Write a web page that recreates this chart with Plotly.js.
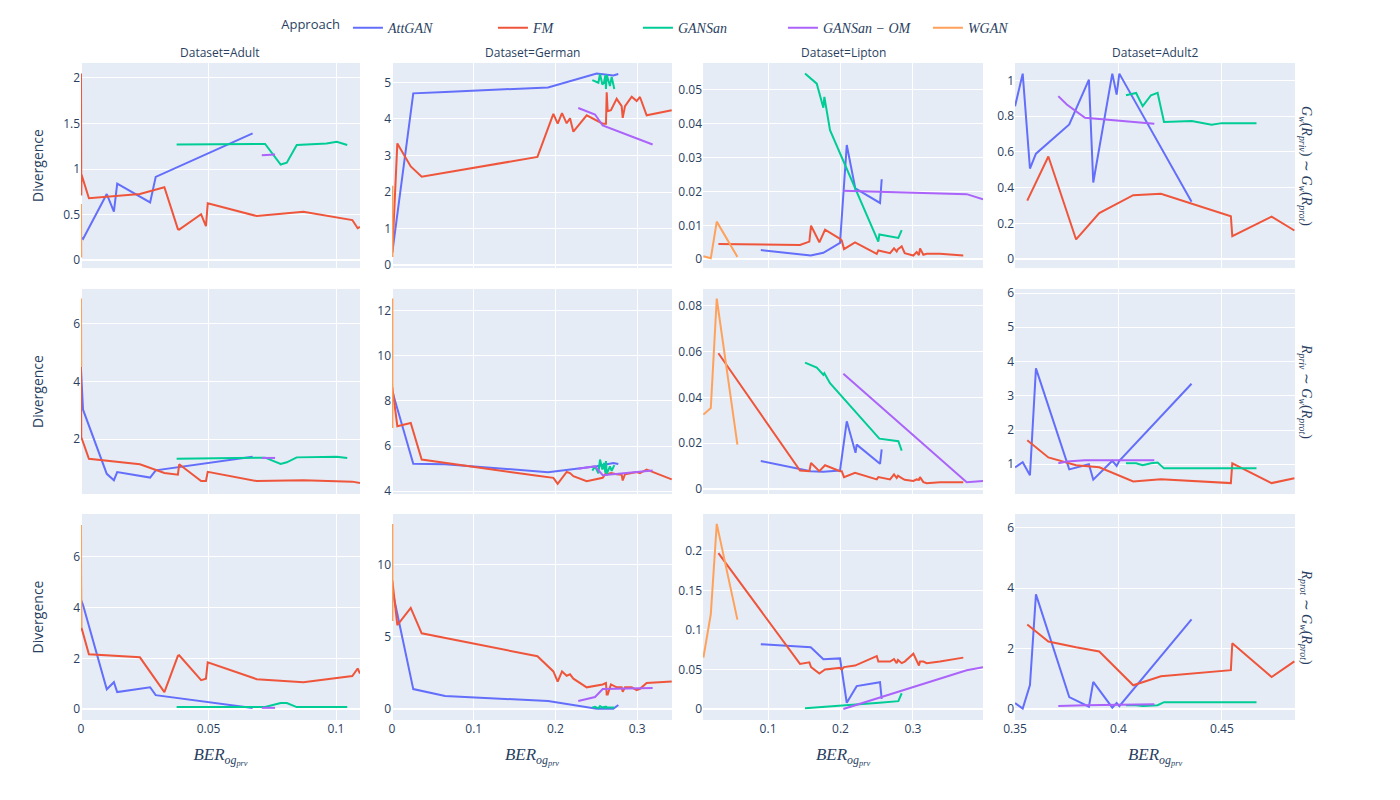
<!DOCTYPE html>
<html><head><meta charset="utf-8">
<script src="https://cdn.plot.ly/plotly-3.0.1.min.js"></script>
<style>body{margin:0;background:#fff}</style>
</head><body><div id="chart" style="width:1400px;height:800px"></div>
<script>
// ---------- categories ----------
const datasets = ['Adult', 'German', 'Lipton', 'Adult2'];
const approaches = ['AttGAN', 'FM', 'GANSan', 'GANSan-OM', 'WGAN'];
const approachLabels = ['<i>AttGAN</i>', '<i>FM</i>', '<i>GANSan</i>', '<i>GANSan − OM</i>', '<i>WGAN</i>'];
const rowLabels = [
  '<i>G<sub>w</sub></i>(<i>R<sub>priv</sub></i>) ∼ <i>G<sub>w</sub></i>(<i>R<sub>prot</sub></i>)',
  '<i>R<sub>priv</sub></i> ∼ <i>G<sub>w</sub></i>(<i>R<sub>prot</sub></i>)',
  '<i>R<sub>prot</sub></i> ∼ <i>G<sub>w</sub></i>(<i>R<sub>prot</sub></i>)'
];

// ---------- Adult ----------
const adult_attgan_x  = [0, 0.0008, 0.0101, 0.0129, 0.0142, 0.0271, 0.0293, 0.0673];
const adult_attgan_m1 = [0.25, 0.233, 0.725, 0.532, 0.841, 0.634, 0.914, 1.391];
const adult_attgan_m2 = [4.40, 3.02, 0.80, 0.58, 0.86, 0.67, 0.92, 1.39];
const adult_attgan_m3 = [4.3, 4.1, 0.78, 1.06, 0.67, 0.86, 0.55, 0.04];

const adult_fm_x  = [0, 0.0001, 0.0002, 0.0031, 0.0231, 0.0327, 0.0380, 0.0385, 0.0471, 0.0490, 0.0497, 0.0689, 0.0872, 0.1064, 0.1085, 0.1094];
const adult_fm_m1 = [2.05, 0.71, 0.94, 0.68, 0.725, 0.80, 0.34, 0.335, 0.503, 0.372, 0.623, 0.484, 0.532, 0.44, 0.35, 0.364];
const adult_fm_m2 = [4.63, 1.99, 2.05, 1.32, 1.13, 0.83, 0.77, 1.13, 0.55, 0.55, 0.87, 0.55, 0.58, 0.53, 0.50, 0.48];
const adult_fm_m3 = [5.3, 3.1, 3.2, 2.16, 2.04, 0.67, 2.1, 2.12, 1.14, 1.2, 1.84, 1.18, 1.06, 1.3, 1.6, 1.4];

const adult_gansan_x  = [0.0375, 0.0722, 0.0783, 0.0807, 0.0846, 0.0963, 0.1003, 0.1044];
const adult_gansan_m1 = [1.268, 1.275, 1.05, 1.07, 1.264, 1.28, 1.30, 1.264];
const adult_gansan_m2 = [1.32, 1.36, 1.14, 1.2, 1.37, 1.37, 1.39, 1.35];
const adult_gansan_m3 = [0.08, 0.08, 0.24, 0.24, 0.08, 0.08, 0.08, 0.08];

const adult_om_x  = [0.0709, 0.0761];
const adult_om_m1 = [1.15, 1.16];
const adult_om_m2 = [1.35, 1.35];
const adult_om_m3 = [0.05, 0.05];

const adult_wgan_x  = [0, 0.0001];
const adult_wgan_m1 = [0.615, 0.03];
const adult_wgan_m2 = [6.87, 4.5];
const adult_wgan_m3 = [7.25, 3.2];

// ---------- German ----------
const german_attgan_x  = [0.0004, 0.026, 0.065, 0.191, 0.2505, 0.2709, 0.277];
const german_attgan_m1 = [0.354, 4.70, 4.74, 4.86, 5.24, 5.19, 5.23];
const german_attgan_m2 = [8.42, 5.21, 5.19, 4.84, 5.10, 5.25, 5.2];
const german_attgan_m3 = [8.2, 1.38, 0.9, 0.55, 0.02, 0.02, 0.28];

const german_fm_x  = [0.0004, 0.0065, 0.0229, 0.0363, 0.178, 0.1975, 0.2028, 0.2081, 0.2138, 0.2179, 0.222, 0.2383, 0.2579, 0.2619, 0.2628, 0.264, 0.268, 0.275, 0.2811, 0.2824, 0.2852, 0.2934, 0.2995, 0.3035, 0.3117, 0.3424];
const german_fm_m1 = [0.35, 3.33, 2.70, 2.42, 2.96, 4.14, 3.87, 4.16, 3.88, 4.02, 3.65, 4.10, 3.87, 3.87, 4.73, 4.21, 4.24, 4.55, 4.35, 4.03, 4.35, 4.61, 4.49, 4.60, 4.10, 4.24];
const german_fm_m2 = [8.6, 6.88, 7.02, 5.40, 4.68, 4.59, 4.32, 4.59, 4.85, 4.80, 4.66, 4.44, 4.59, 4.80, 4.73, 4.75, 4.80, 4.75, 4.73, 4.47, 4.75, 4.80, 4.85, 4.80, 4.96, 4.52];
const german_fm_m3 = [8.9, 5.8, 7.0, 5.24, 3.65, 2.6, 1.9, 2.6, 2.3, 2.4, 2.1, 1.5, 1.7, 1.8, 1.0, 1.0, 1.7, 1.5, 1.5, 1.2, 1.5, 1.5, 1.3, 1.4, 1.8, 1.9];

const german_gansan_x  = [0.2452, 0.2485, 0.2526, 0.2546, 0.2575, 0.2595, 0.2611, 0.2619, 0.2628, 0.2668, 0.2689, 0.2721];
const german_gansan_m1 = [5.06, 5.03, 4.99, 5.23, 4.94, 5.0, 5.19, 4.82, 5.21, 4.9, 5.15, 4.82];
const german_gansan_m2 = [4.91, 5.1, 4.79, 5.4, 4.96, 5.25, 4.82, 5.33, 4.75, 5.1, 4.9, 5.15];
const german_gansan_m3 = [0.1, 0.15, 0.05, 0.2, 0.1, 0.15, 0.05, 0.2, 0.1, 0.1, 0.15, 0.1];

const german_om_x  = [0.228, 0.2485, 0.2579, 0.319];
const german_om_m1 = [4.30, 4.12, 3.82, 3.30];
const german_om_m2 = [4.99, 5.1, 4.71, 4.91];
const german_om_m3 = [0.55, 0.83, 1.38, 1.45];

const german_wgan_x  = [0.0004, 0.0005];
const german_wgan_m1 = [2.17, 0.22];
const german_wgan_m2 = [12.55, 6.8];
const german_wgan_m3 = [12.8, 6.1];

// ---------- Lipton ----------
const lipton_attgan_x  = [0.09, 0.1589, 0.1763, 0.1993, 0.2086, 0.2207, 0.2223, 0.2545, 0.2568];
const lipton_attgan_m1 = [0.0027, 0.0011, 0.0019, 0.0048, 0.0337, 0.0205, 0.0207, 0.0166, 0.0236];
const lipton_attgan_m2 = [0.0122, 0.0078, 0.0075, 0.0081, 0.0296, 0.0158, 0.0194, 0.0110, 0.0173];
const lipton_attgan_m3 = [0.082, 0.078, 0.063, 0.064, 0.008, 0.028, 0.029, 0.034, 0.013];

const lipton_fm_x  = [0.0315, 0.1441, 0.157, 0.1593, 0.1708, 0.1786, 0.1993, 0.2017, 0.2048, 0.22, 0.25, 0.2522, 0.2683, 0.2738, 0.2775, 0.2793, 0.2844, 0.2886, 0.3005, 0.3051, 0.3082, 0.3097, 0.3143, 0.3189, 0.3372, 0.3694];
const lipton_fm_m1 = [0.0045, 0.0042, 0.0052, 0.0099, 0.005, 0.0087, 0.006, 0.0055, 0.003, 0.005, 0.0016, 0.0026, 0.0018, 0.0032, 0.0023, 0.0030, 0.0038, 0.0018, 0.0011, 0.0021, 0.0012, 0.0032, 0.0013, 0.0016, 0.0016, 0.0011];
const lipton_fm_m2 = [0.0593, 0.0081, 0.0078, 0.0114, 0.0078, 0.0104, 0.0078, 0.0078, 0.0052, 0.0071, 0.0042, 0.0052, 0.0042, 0.0064, 0.0048, 0.0058, 0.0048, 0.0040, 0.0035, 0.0042, 0.0040, 0.0052, 0.0030, 0.0025, 0.0030, 0.0030];
const lipton_fm_m3 = [0.197, 0.057, 0.059, 0.053, 0.045, 0.05, 0.052, 0.05, 0.053, 0.055, 0.067, 0.06, 0.06, 0.063, 0.058, 0.062, 0.058, 0.06, 0.07, 0.062, 0.055, 0.06, 0.06, 0.058, 0.06, 0.065];

const lipton_gansan_x  = [0.151, 0.1672, 0.1763, 0.1777, 0.1855, 0.2521, 0.2536, 0.2798, 0.2844];
const lipton_gansan_m1 = [0.0548, 0.0518, 0.0447, 0.0479, 0.0381, 0.0052, 0.0073, 0.0063, 0.0086];
const lipton_gansan_m2 = [0.0552, 0.0530, 0.0499, 0.0506, 0.0462, 0.0225, 0.0220, 0.0209, 0.0168];
const lipton_gansan_m3 = [0.001, 0.002, 0.003, 0.003, 0.004, 0.008, 0.008, 0.010, 0.020];

const lipton_om_x  = [0.2039, 0.3741, 0.3966];
const lipton_om_m1 = [0.0202, 0.0192, 0.0177];
const lipton_om_m2 = [0.0503, 0.0030, 0.0035];
const lipton_om_m3 = [0.0, 0.049, 0.053];

const lipton_wgan_x  = [0.0108, 0.021, 0.0292, 0.0577];
const lipton_wgan_m1 = [0.0009, 0.0003, 0.0111, 0.0007];
const lipton_wgan_m2 = [0.0325, 0.0354, 0.0832, 0.0194];
const lipton_wgan_m3 = [0.065, 0.12, 0.234, 0.113];

// ---------- Adult2 ----------
const adult2_attgan_x  = [0.35, 0.3537, 0.3572, 0.3601, 0.3762, 0.3857, 0.3878, 0.397, 0.3991, 0.4004, 0.4353];
const adult2_attgan_m1 = [0.856, 1.038, 0.507, 0.59, 0.754, 1.004, 0.429, 1.038, 0.921, 1.038, 0.321];
const adult2_attgan_m2 = [0.91, 1.06, 0.68, 3.8, 0.85, 1.0, 0.55, 1.1, 0.95, 1.1, 3.35];
const adult2_attgan_m3 = [0.2, 0.02, 0.8, 3.8, 0.4, 0.08, 0.9, 0.05, 0.2, 0.1, 2.97];

const adult2_fm_x  = [0.3559, 0.3661, 0.3795, 0.3907, 0.4071, 0.4205, 0.4543, 0.455, 0.474, 0.485];
const adult2_fm_m1 = [0.327, 0.574, 0.11, 0.258, 0.358, 0.366, 0.24, 0.128, 0.238, 0.16];
const adult2_fm_m2 = [1.70, 1.2, 0.97, 0.91, 0.5, 0.56, 0.45, 1.03, 0.45, 0.59];
const adult2_fm_m3 = [2.8, 2.24, 2.05, 1.91, 0.79, 1.09, 1.29, 2.18, 1.06, 1.58];

const adult2_gansan_x  = [0.4036, 0.4085, 0.4117, 0.4157, 0.4189, 0.422, 0.4354, 0.445, 0.4499, 0.4667];
const adult2_gansan_m1 = [0.917, 0.93, 0.856, 0.917, 0.93, 0.767, 0.773, 0.752, 0.761, 0.76];
const adult2_gansan_m2 = [1.03, 1.03, 0.97, 1.03, 1.05, 0.88, 0.88, 0.88, 0.88, 0.88];
const adult2_gansan_m3 = [0.13, 0.13, 0.1, 0.13, 0.13, 0.23, 0.23, 0.23, 0.23, 0.23];

const adult2_om_x  = [0.3709, 0.375, 0.3838, 0.4173];
const adult2_om_m1 = [0.912, 0.865, 0.791, 0.758];
const adult2_om_m2 = [1.03, 1.08, 1.12, 1.12];
const adult2_om_m3 = [0.1, 0.11, 0.13, 0.16];

// ---------- lookup table built from the arrays ----------
const table = {
  Adult: {
    'AttGAN': [adult_attgan_x, adult_attgan_m1, adult_attgan_m2, adult_attgan_m3],
    'FM': [adult_fm_x, adult_fm_m1, adult_fm_m2, adult_fm_m3],
    'GANSan': [adult_gansan_x, adult_gansan_m1, adult_gansan_m2, adult_gansan_m3],
    'GANSan-OM': [adult_om_x, adult_om_m1, adult_om_m2, adult_om_m3],
    'WGAN': [adult_wgan_x, adult_wgan_m1, adult_wgan_m2, adult_wgan_m3]
  },
  German: {
    'AttGAN': [german_attgan_x, german_attgan_m1, german_attgan_m2, german_attgan_m3],
    'FM': [german_fm_x, german_fm_m1, german_fm_m2, german_fm_m3],
    'GANSan': [german_gansan_x, german_gansan_m1, german_gansan_m2, german_gansan_m3],
    'GANSan-OM': [german_om_x, german_om_m1, german_om_m2, german_om_m3],
    'WGAN': [german_wgan_x, german_wgan_m1, german_wgan_m2, german_wgan_m3]
  },
  Lipton: {
    'AttGAN': [lipton_attgan_x, lipton_attgan_m1, lipton_attgan_m2, lipton_attgan_m3],
    'FM': [lipton_fm_x, lipton_fm_m1, lipton_fm_m2, lipton_fm_m3],
    'GANSan': [lipton_gansan_x, lipton_gansan_m1, lipton_gansan_m2, lipton_gansan_m3],
    'GANSan-OM': [lipton_om_x, lipton_om_m1, lipton_om_m2, lipton_om_m3],
    'WGAN': [lipton_wgan_x, lipton_wgan_m1, lipton_wgan_m2, lipton_wgan_m3]
  },
  Adult2: {
    'AttGAN': [adult2_attgan_x, adult2_attgan_m1, adult2_attgan_m2, adult2_attgan_m3],
    'FM': [adult2_fm_x, adult2_fm_m1, adult2_fm_m2, adult2_fm_m3],
    'GANSan': [adult2_gansan_x, adult2_gansan_m1, adult2_gansan_m2, adult2_gansan_m3],
    'GANSan-OM': [adult2_om_x, adult2_om_m1, adult2_om_m2, adult2_om_m3]
  }
};

// ---------- styling / layout ----------
const colors = ['#636efa', '#EF553B', '#00cc96', '#ab63fa', '#FFA15A'];
const xDomains = [[0, 0.2298], [0.2562, 0.4868], [0.5124, 0.7430], [0.7694, 1]];
const yDomains = [[0.6879, 1], [0.3439, 0.6561], [0, 0.3136]];
const xRanges = [[0, 0.1094], [0, 0.3427], [0.0103, 0.3966], [0.35, 0.4853]];
const xDticks = [0.05, 0.1, 0.1, 0.05];
const yRanges = [
  [[-0.087, 2.164], [-0.08, 5.53], [-0.0026, 0.0579], [-0.05, 1.0975]],
  [[0.10, 7.2], [3.87, 12.97], [-0.0022, 0.0874], [0.13, 6.12]],
  [[-0.43, 7.69], [-0.76, 13.5], [-0.0138, 0.2465], [-0.36, 6.46]]
];
const yDticks = [[0.5, 1, 0.01, 0.2], [2, 2, 0.02, 1], [2, 5, 0.05, 2]];

const traces = [];
approaches.forEach((ap, ai) => {
  let first = true;
  datasets.forEach((ds, c) => {
    const rec = table[ds][ap];
    if (!rec) return;
    for (let r = 0; r < 3; r++) {
      const n = r * 4 + c + 1;
      traces.push({
        type: 'scatter', mode: 'lines',
        x: rec[0], y: rec[r + 1],
        xaxis: 'x' + (n === 1 ? '' : n), yaxis: 'y' + (n === 1 ? '' : n),
        name: approachLabels[ai], legendgroup: ap,
        showlegend: first,
        line: {color: colors[ai], width: 2}
      });
      first = false;
    }
  });
});

const layout = {
  width: 1400, height: 800,
  margin: {l: 81, r: 105, t: 60, b: 80},
  paper_bgcolor: '#ffffff', plot_bgcolor: '#E5ECF6',
  font: {family: '"Open Sans", verdana, arial, sans-serif', size: 12, color: '#2a3f5f'},
  showlegend: true,
  legend: {
    orientation: 'h', x: 0.1633, xanchor: 'left', y: 1.053, yanchor: 'middle',
    entrywidth: 100, entrywidthmode: 'pixels',
    font: {family: 'Liberation Serif', size: 14, color: '#2a3f5f'},
    title: {text: 'Approach', font: {family: '"Open Sans", sans-serif', size: 13, color: '#2a3f5f'}}
  },
  annotations: []
};

for (let r = 0; r < 3; r++) {
  for (let c = 0; c < 4; c++) {
    const n = r * 4 + c + 1;
    const sfx = n === 1 ? '' : n;
    layout['xaxis' + sfx] = {
      domain: xDomains[c], anchor: 'y' + sfx, range: xRanges[c], dtick: xDticks[c],
      showticklabels: r === 2, gridcolor: 'white', zerolinecolor: 'white', zerolinewidth: 2,
      showline: false, ticks: '',
      title: r === 2 ? {text: '<i>BER<sub>og<sub>prv</sub></sub></i>', standoff: 12,
                        font: {family: 'Liberation Serif', size: 17, color: '#2a3f5f'}} : {text: ''}
    };
    layout['yaxis' + sfx] = {
      domain: yDomains[r], anchor: 'x' + sfx, range: yRanges[r][c], dtick: yDticks[r][c],
      gridcolor: 'white', zerolinecolor: 'white', zerolinewidth: 2, showline: false, ticks: '',
      title: c === 0 ? {text: 'Divergence', font: {size: 14}} : {text: ''}
    };
  }
}

datasets.forEach((ds, c) => {
  layout.annotations.push({
    text: 'Dataset=' + ds, xref: 'paper', yref: 'paper',
    x: (xDomains[c][0] + xDomains[c][1]) / 2, y: 1, xanchor: 'center', yanchor: 'bottom',
    showarrow: false, font: {size: 12}
  });
});
rowLabels.forEach((t, r) => {
  layout.annotations.push({
    text: t, xref: 'paper', yref: 'paper', x: 1, xshift: 0,
    y: (yDomains[r][0] + yDomains[r][1]) / 2, xanchor: 'left', yanchor: 'middle',
    textangle: 90, showarrow: false,
    font: {family: 'Liberation Serif', size: 14, color: '#2a3f5f'}
  });
});

Plotly.newPlot('chart', traces, layout, {displayModeBar: false, staticPlot: true});
</script></body></html>
